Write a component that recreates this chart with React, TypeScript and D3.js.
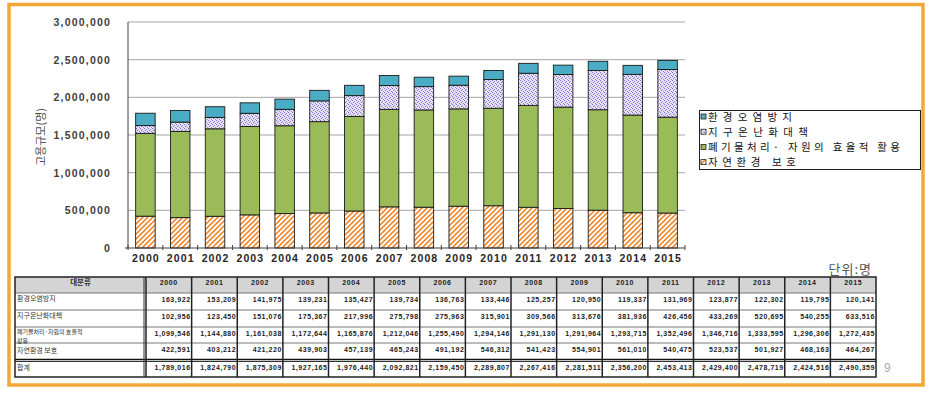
import React from 'react';
import * as d3 from 'd3';

const years = ['2000', '2001', '2002', '2003', '2004', '2005', '2006', '2007', '2008', '2009', '2010', '2011', '2012', '2013', '2014', '2015'];
const seriesNames = ['환경오염방지', '지구온난화대책', '폐기물처리· 자원의 효율적 활용', '자연환경 보호'];
const pollution = [163922, 153209, 141975, 139231, 135427, 139734, 136763, 133446, 125257, 120950, 119337, 131969, 123877, 122302, 119795, 120141];
const warming = [102956, 123450, 151076, 175367, 217996, 275798, 275963, 315901, 309566, 313676, 381936, 426456, 433269, 520695, 540255, 633516];
const waste = [1099546, 1144880, 1161038, 1172644, 1165876, 1212046, 1255490, 1294146, 1291130, 1291964, 1293715, 1352496, 1346716, 1333595, 1296306, 1272435];
const nature = [422591, 403212, 421220, 439903, 457139, 465243, 491192, 546312, 541423, 554901, 561010, 540475, 523537, 501927, 468163, 464267];
const totals = [1789016, 1824790, 1875309, 1927165, 1976440, 2092821, 2159450, 2289807, 2267416, 2281511, 2356200, 2453413, 2429400, 2478719, 2424516, 2490359];
const yTicks = [0, 500000, 1000000, 1500000, 2000000, 2500000, 3000000];
const tableHeader = '대분류';
const tableRowLabels = [['환경오염방지'], ['지구온난화대책'], ['폐기물처리·자원의 효율적', '활용'], ['자연환경 보호'], ['합계']];
const unitLabel = '단위:명';
const yAxisTitle = '고용규모(명)';
const pageNumber = '9';

const keys = ['nature', 'waste', 'warming', 'pollution'];
const fills: Record<string, string> = {
  pollution: '#4BACC6',
  warming: 'url(#lav)',
  waste: '#9BBB59',
  nature: 'url(#stripes)',
};

export default function App() {
  const W = 933, H = 396;
  const plot = { left: 128, right: 685, top: 22, bottom: 248 };
  const x = d3.scaleBand<string>().domain(years).range([plot.left, plot.right]).paddingInner(0.44).paddingOuter(0.22);
  const y = d3.scaleLinear().domain([0, 3000000]).range([plot.bottom, plot.top]);
  const rows = years.map((yr, i) => ({ year: yr, pollution: pollution[i], warming: warming[i], waste: waste[i], nature: nature[i] }));
  const stacked = d3.stack<any>().keys(keys)(rows);
  const fmt = d3.format(',');
  const step = x.step();

  // table geometry
  const tLeft = 15, tFirst = 146, tRight = 876;
  const colW = (tRight - tFirst) / years.length;
  const rowY = [277, 293, 310, 327, 343, 360, 377];
  const tableData = [pollution, warming, waste, nature, totals];

  const legendKeys = ['pollution', 'warming', 'waste', 'nature'];
  const legendWidths = [84, 100, 192, 88];

  const labelBaselines = (r: number, nLines: number) => {
    if (r === 4) return [rowY[5] + 10];
    if (nLines > 1) return [rowY[r + 1] + 6.5, rowY[r + 1] + 15.5];
    if (r === 3) return [rowY[r + 1] + 9.5];
    return [rowY[r + 1] + 8];
  };

  return (
    <svg width={W} height={H} style={{ position: 'fixed', left: 0, top: 0, background: '#fff' }}
      fontFamily="'Liberation Sans', Arial, sans-serif">
      <defs>
        <pattern id="stripes" patternUnits="userSpaceOnUse" width="5" height="5">
          <rect width="5" height="5" fill="#fff" />
          <path d="M-1,1 L1,-1 M0,5 L5,0 M4,6 L6,4" stroke="#F08A30" strokeWidth="1.6" />
        </pattern>
        <pattern id="lav" patternUnits="userSpaceOnUse" width="4" height="4">
          <rect width="4" height="4" fill="#E6E1F4" />
          <rect x="0" y="0" width="1" height="1" fill="#7A6BC0" />
          <rect x="2" y="1" width="1" height="1" fill="#978BD0" />
          <rect x="1" y="2" width="1" height="1" fill="#7A6BC0" />
          <rect x="3" y="3" width="1" height="1" fill="#978BD0" />
        </pattern>
      </defs>
      <rect x={0} y={0} width={W} height={H} fill="#fff" />

      {/* gridlines */}
      {yTicks.filter(t => t > 0).map(t => (
        <line key={t} x1={plot.left} x2={plot.right} y1={y(t)} y2={y(t)} stroke="#A6A6A6" strokeWidth={1} />
      ))}
      {/* y tick labels */}
      {yTicks.map(t => (
        <text key={'yl' + t} x={111} y={y(t) + 4} textAnchor="end" fontSize={10.5} fontWeight="bold" fill="#404040" letterSpacing={1.2}>
          {fmt(t)}
        </text>
      ))}
      <text transform={`translate(45,${(plot.top + plot.bottom) / 2 + 2}) rotate(-90)`} textAnchor="middle" fontSize={11}
        fill="#555" fontFamily="'Noto Sans CJK KR', sans-serif">{yAxisTitle}</text>

      {/* bars */}
      {stacked.map(s => (
        <g key={s.key}>
          {s.map((d: any, i: number) => (
            <rect key={i} x={x(years[i])} y={y(d[1])} width={x.bandwidth()} height={y(d[0]) - y(d[1])}
              fill={fills[s.key]} stroke="#1a1a1a" strokeWidth={0.9} />
          ))}
        </g>
      ))}

      {/* axes */}
      <line x1={plot.left} x2={plot.left} y1={plot.top} y2={plot.bottom} stroke="#404040" strokeWidth={1} />
      <line x1={plot.left - 3} x2={plot.right} y1={plot.bottom} y2={plot.bottom} stroke="#404040" strokeWidth={1.2} />
      {d3.range(years.length + 1).map(i => (
        <line key={'xt' + i} x1={plot.left + i * step} x2={plot.left + i * step} y1={plot.bottom - 3} y2={plot.bottom + 2} stroke="#404040" />
      ))}
      {years.map(yr => (
        <text key={'xl' + yr} x={(x(yr) as number) + x.bandwidth() / 2 + 0.5} y={262} textAnchor="middle" fontSize={10.5}
          fontWeight="bold" fill="#262626" letterSpacing={1.1}>{yr}</text>
      ))}

      {/* legend */}
      <rect x={699.5} y={110.5} width={221} height={59} fill="#fff" stroke="#222" strokeWidth={1} />
      {legendKeys.map((k, i) => {
        const cy = 116.5 + i * 15.2;
        return (
          <g key={'lg' + k}>
            <rect x={701} y={cy - 2.5} width={5} height={5} fill={fills[k]} stroke="#222" strokeWidth={0.8} />
            <text x={708} y={cy + 4} fontSize={10.5} fill="#111" fontFamily="'Noto Sans CJK KR', sans-serif"
              textLength={legendWidths[i]} lengthAdjust="spacing">{seriesNames[i]}</text>
          </g>
        );
      })}

      {/* unit label */}
      <text x={872} y={274} textAnchor="end" fontSize={13} fill="#555" fontFamily="'Noto Sans CJK KR', sans-serif" letterSpacing={1}>{unitLabel}</text>

      {/* table */}
      <rect x={tLeft} y={rowY[0]} width={tRight - tLeft} height={rowY[1] - rowY[0]} fill="#D4D4D4" />
      {rowY.slice(1, 5).map((ry, i) => (
        <line key={'hr' + i} x1={tLeft} x2={tRight} y1={ry} y2={ry} stroke="#777" strokeWidth={1} />
      ))}
      <line x1={tLeft} x2={tRight} y1={rowY[5] - 0.5} y2={rowY[5] - 0.5} stroke="#111" strokeWidth={1.5} />
      <line x1={tLeft} x2={tRight} y1={rowY[5] + 1.5} y2={rowY[5] + 1.5} stroke="#333" strokeWidth={1} />
      <rect x={tLeft} y={rowY[0]} width={tRight - tLeft} height={rowY[6] - rowY[0]} fill="none" stroke="#222" strokeWidth={1.5} />
      <line x1={tFirst - 2} x2={tFirst - 2} y1={rowY[0]} y2={rowY[6]} stroke="#333" strokeWidth={1} />
      {d3.range(years.length).map(i => (
        <line key={'vc' + i} x1={tFirst + i * colW} x2={tFirst + i * colW} y1={rowY[0]} y2={rowY[6]} stroke="#222" strokeWidth={1.5} />
      ))}
      <text x={(tLeft + tFirst) / 2} y={rowY[0] + 8} textAnchor="middle" fontSize={7.5} fontWeight="bold" fill="#333"
        fontFamily="'Noto Sans CJK KR', sans-serif">{tableHeader}</text>
      {years.map((yr, i) => (
        <text key={'th' + yr} x={tFirst + (i + 0.5) * colW} y={rowY[0] + 8} textAnchor="middle" fontSize={7} fontWeight="bold"
          fill="#222" letterSpacing={0.6}>{yr}</text>
      ))}
      {tableRowLabels.map((lines, r) => {
        const bl = labelBaselines(r, lines.length);
        return lines.map((ln, j) => (
          <text key={'rl' + r + '-' + j} x={17} y={bl[j]} fontSize={lines.length > 1 ? 6 : 7} fill="#333"
            fontFamily="'Noto Sans CJK KR', sans-serif">{ln}</text>
        ));
      })}
      {tableData.map((arr, r) => arr.map((v, i) => (
        <text key={'tv' + r + '-' + i} x={tFirst + (i + 1) * colW - 1} y={rowY[r + 1] + (r === 4 ? 10 : 9)} textAnchor="end"
          fontSize={7} fontWeight="bold" fill="#222" letterSpacing={0.55}>{fmt(v)}</text>
      )))}

      <text x={884} y={372} fontSize={12} fill="#AAA">{pageNumber}</text>

      {/* orange frame */}
      <rect x={9} y={4.5} width={914} height={380.5} fill="none" stroke="#F4A736" strokeWidth={3.5} />
    </svg>
  );
}
